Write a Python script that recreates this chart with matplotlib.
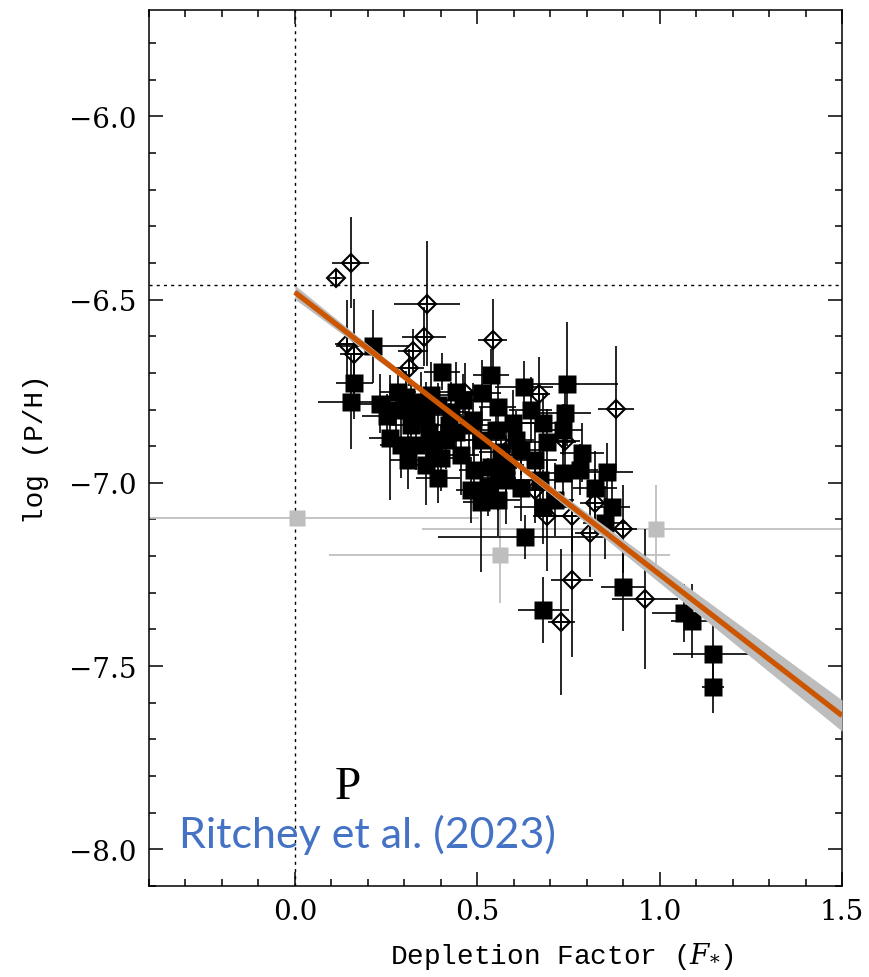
import matplotlib
matplotlib.use("Agg")
import matplotlib.pyplot as plt
import numpy as np
from matplotlib.ticker import MultipleLocator, FuncFormatter

# ---- filled squares: sight lines with measured F*
sq_x = [0.213, 0.163, 0.153, 0.403, 0.441, 0.283, 0.305, 0.253, 0.262, 0.332,
        0.392, 0.381, 0.510, 0.490, 0.422, 0.346, 0.514, 0.556, 0.599, 0.629,
        0.747, 0.741, 0.681, 0.736, 0.692, 0.787, 0.659, 0.736, 0.782, 0.856,
        0.823, 0.869, 0.621, 0.681, 0.632, 0.529, 0.537, 0.850, 0.899, 0.681,
        1.068, 1.090, 1.147, 1.147, 0.319, 0.368, 0.414, 0.455, 0.477, 0.510,
        0.564, 0.578, 0.482, 0.556, 0.278, 0.373, 0.605, 0.646, 0.537,
        0.232, 0.319, 0.360, 0.392, 0.428, 0.460, 0.488, 0.441, 0.401, 0.360,
        0.550, 0.578, 0.619, 0.556, 0.673, 0.714, 0.292, 0.311]
sq_y = [-6.628, -6.727, -6.779, -6.697, -6.751, -6.751, -6.765, -6.817, -6.877, -6.896,
        -6.986, -6.904, -7.052, -6.964, -6.842, -6.779, -6.754, -6.792, -6.836, -6.738,
        -6.730, -6.809, -6.836, -6.855, -6.888, -6.918, -6.937, -6.973, -6.964, -6.970,
        -7.014, -7.066, -7.014, -7.066, -7.148, -7.011, -6.956, -7.109, -7.284, -7.347,
        -7.355, -7.377, -7.467, -7.557, -6.842, -6.861, -6.883, -6.923, -6.842, -6.883,
        -6.915, -6.992, -7.019, -7.046, -6.800, -6.760, -6.883, -6.800, -6.705,
        -6.784, -6.800, -6.814, -6.787, -6.806, -6.773, -6.828, -6.861, -6.932, -6.951,
        -6.855, -6.951, -6.910, -6.986, -6.992, -7.046, -6.896, -6.937]
sq_xerr = [0.10, 0.05, 0.09, 0.05, 0.06, 0.05, 0.06, 0.07, 0.06, 0.05,
           0.06, 0.05, 0.05, 0.04, 0.07, 0.04, 0.05, 0.05, 0.07, 0.08,
           0.14, 0.07, 0.06, 0.05, 0.08, 0.06, 0.06, 0.07, 0.05, 0.07,
           0.06, 0.05, 0.05, 0.08, 0.24, 0.06, 0.05, 0.06, 0.06, 0.07,
           0.09, 0.06, 0.11, 0.03, 0.06, 0.05, 0.07, 0.05, 0.06, 0.05,
           0.06, 0.05, 0.04, 0.06, 0.05, 0.06, 0.05, 0.06, 0.05,
           0.07, 0.05, 0.06, 0.04, 0.05, 0.06, 0.05, 0.07, 0.06, 0.05,
           0.06, 0.05, 0.07, 0.05, 0.06, 0.05, 0.06, 0.05]
sq_yerr = [0.10, 0.10, 0.13, 0.05, 0.08, 0.06, 0.07, 0.06, 0.17, 0.07,
           0.07, 0.08, 0.19, 0.07, 0.06, 0.08, 0.09, 0.08, 0.09, 0.07,
           0.17, 0.10, 0.08, 0.07, 0.09, 0.08, 0.10, 0.09, 0.07, 0.08,
           0.10, 0.08, 0.09, 0.10, 0.06, 0.08, 0.09, 0.10, 0.12, 0.09,
           0.08, 0.10, 0.08, 0.07, 0.09, 0.10, 0.08, 0.11, 0.07, 0.09,
           0.08, 0.12, 0.09, 0.10, 0.07, 0.09, 0.08, 0.09, 0.07,
           0.08, 0.07, 0.09, 0.06, 0.08, 0.07, 0.10, 0.08, 0.09, 0.11,
           0.08, 0.10, 0.07, 0.09, 0.08, 0.10, 0.09, 0.08]

# ---- open diamonds
dm_x = [0.114, 0.153, 0.144, 0.163, 0.362, 0.354, 0.324, 0.313, 0.542, 0.670,
        0.880, 0.466, 0.586, 0.741, 0.659, 0.692, 0.760, 0.809, 0.899, 0.823,
        0.760, 0.730, 0.959]
dm_y = [-6.440, -6.399, -6.620, -6.648, -6.511, -6.601, -6.639, -6.686, -6.609, -6.757,
        -6.798, -6.754, -6.904, -6.885, -7.019, -7.090, -7.090, -7.137, -7.126, -7.055,
        -7.265, -7.380, -7.317]
dm_xerr = [0.01, 0.05, 0.035, 0.04, 0.09, 0.06, 0.04, 0.04, 0.04, 0.03,
           0.05, 0.03, 0.04, 0.04, 0.04, 0.04, 0.05, 0.04, 0.04, 0.04,
           0.058, 0.037, 0.09]
dm_yerr = [0.02, 0.125, 0.12, 0.15, 0.17, 0.08, 0.06, 0.05, 0.11, 0.10,
           0.17, 0.08, 0.08, 0.10, 0.09, 0.15, 0.10, 0.12, 0.12, 0.08,
           0.21, 0.20, 0.19]

# ---- grey squares (excluded from the fit)
gr_x = [0.005, 0.561, 0.989]
gr_y = [-7.096, -7.197, -7.126]
gr_xerr = [0.50, 0.467, 0.64]
gr_yerr = [0.01, 0.13, 0.12]

# ---- linear fit  log(P/H) = B + A (F* - z)
fit_A, fit_B, fit_z = -0.77, -6.8265, 0.45
sig_A, sig_B = 0.04, 0.006
solar_PH = -6.46

plt.rcParams["mathtext.fontset"] = "dejavuserif"

fig = plt.figure(figsize=(8.69, 9.78), dpi=100)
ax = fig.add_axes([149 / 869, 1 - 887 / 978, (842 - 149) / 869, (887 - 11) / 978])

serif = "DejaVu Serif"
mono = "Liberation Mono"

ax.axvline(0.0, color="black", lw=1.0, ls=(0, (2.2, 3.0)), zorder=1)
ax.axhline(solar_PH, color="black", lw=1.0, ls=(0, (2.2, 3.0)), zorder=1)

ax.errorbar(gr_x, gr_y, xerr=gr_xerr, yerr=gr_yerr, fmt="none",
            ecolor="#BFBFBF", elinewidth=1.3, capsize=0, zorder=2)
ax.plot(gr_x, gr_y, "s", ms=11.5, color="#BEBEBE", mec="none", zorder=2.5)

ax.errorbar(sq_x, sq_y, xerr=sq_xerr, yerr=sq_yerr, fmt="none",
            ecolor="black", elinewidth=1.2, capsize=0, zorder=3)
ax.errorbar(dm_x, dm_y, xerr=dm_xerr, yerr=dm_yerr, fmt="none",
            ecolor="black", elinewidth=1.2, capsize=0, zorder=3)
ax.plot(sq_x, sq_y, "s", ms=12.3, color="black", mec="none", zorder=4)
ax.plot(dm_x, dm_y, "D", ms=9.6, mfc="none", mec="black", mew=1.5, zorder=4)
ax.plot(dm_x, dm_y, "+", ms=13.5, color="black", mew=1.1, zorder=4)

xf = np.linspace(0.0, 1.5, 200)
yf = fit_B + fit_A * (xf - fit_z)
band = np.sqrt(sig_B ** 2 + (sig_A * (xf - fit_z)) ** 2)
ax.fill_between(xf, yf - band, yf + band, color="#BDBDBD", lw=0, zorder=5)
ax.plot(xf, yf, color="#CC5500", lw=3.8, solid_capstyle="butt", zorder=6)

ax.set_xlim(-0.4, 1.5)
ax.set_ylim(-8.1, -5.71)

ax.xaxis.set_major_locator(MultipleLocator(0.5))
ax.xaxis.set_minor_locator(MultipleLocator(0.1))
ax.yaxis.set_major_locator(MultipleLocator(0.5))
ax.yaxis.set_minor_locator(MultipleLocator(0.1))
fmt = FuncFormatter(lambda v, p: f"{v:.1f}".replace("-", "\u2212"))
ax.xaxis.set_major_formatter(fmt)
ax.yaxis.set_major_formatter(fmt)
ax.tick_params(which="both", direction="in", top=True, right=True, width=1.1,
               labelsize=20, pad=9)
ax.tick_params(which="major", length=10)
ax.tick_params(which="minor", length=5)
for lab in ax.get_xticklabels() + ax.get_yticklabels():
    lab.set_family(serif)
for s in ax.spines.values():
    s.set_linewidth(1.1)

ax.set_xlabel(r"Depletion Factor ($F_{*}$)", family=mono, fontsize=20)
ax.xaxis.set_label_coords((562 - 149) / 693, -0.062)
ax.set_ylabel("log (P/H)", family=mono, fontsize=20, labelpad=14)

ax.text(0.268, 0.1005, "P", transform=ax.transAxes, family="Liberation Serif",
        fontsize=34, color="black", ha="left", va="baseline", zorder=7)
fig.text(179 / 869, 1 - 848 / 978, "Ritchey et al. (2023)", family="Lato",
         fontsize=31, color="#4472C4", ha="left", va="baseline", zorder=8)

fig.savefig("out.png", dpi=100)
